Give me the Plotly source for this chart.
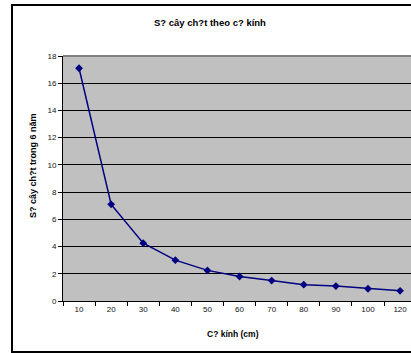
import plotly.graph_objects as go

# Tree diameter classes (cm) and number of dead trees over 6 years
diameters = ["10", "20", "30", "40", "50", "60", "70", "80", "90", "100", "120"]
dead_trees = [17.1, 7.1, 4.25, 3.0, 2.25, 1.8, 1.5, 1.2, 1.1, 0.9, 0.75]

chart_title = "S? cây ch?t theo c? kính"
x_title = "C? kính (cm)"
y_title = "S? cây ch?t trong 6 năm"

W, H = 411, 353
ML, MR, MT, MB = 63, 0, 56, 52
PW = W - ML - MR
PH = H - MT - MB


def px(x):
    return (x - ML) / PW


def py(y):
    return (H - MB - y) / PH


FONT = "Liberation Sans, Arial, sans-serif"
NAVY = "#000080"

fig = go.Figure()
fig.add_trace(go.Scatter(
    x=diameters,
    y=dead_trees,
    mode="lines+markers",
    line=dict(color=NAVY, width=1.5),
    marker=dict(symbol="diamond", size=6, color=NAVY),
    showlegend=False,
    hoverinfo="x+y",
))

frame = dict(color="black", width=2)

fig.update_layout(
    width=W,
    height=H,
    margin=dict(l=ML, r=MR, t=MT, b=MB, pad=0),
    paper_bgcolor="white",
    plot_bgcolor="#C0C0C0",
    font=dict(family=FONT, size=8, color="#111111"),
    xaxis=dict(
        type="category",
        categoryorder="array",
        categoryarray=diameters,
        range=[-0.5, 10.34],
        showgrid=False,
        zeroline=False,
        showline=True,
        linecolor="black",
        linewidth=1,
        ticks="outside",
        tickson="boundaries",
        ticklen=4,
        tickcolor="black",
        tickfont=dict(family=FONT, size=8, color="#111111"),
        fixedrange=True,
    ),
    yaxis=dict(
        range=[0, 18],
        dtick=2,
        showgrid=True,
        gridcolor="black",
        gridwidth=1,
        zeroline=False,
        showline=True,
        linecolor="black",
        linewidth=1,
        ticks="outside",
        ticklen=4,
        tickcolor="black",
        tickfont=dict(family=FONT, size=8, color="#111111"),
        fixedrange=True,
    ),
    shapes=[
        # gray top edge of the plot area
        dict(type="line", xref="paper", yref="paper", x0=0, x1=1, y0=1, y1=1,
             line=dict(color="#808080", width=2)),
        # chart frame: left, top and bottom edges (right edge lies past the page)
        dict(type="line", xref="paper", yref="paper",
             x0=px(12), x1=px(12), y0=py(352), y1=py(5), line=frame),
        dict(type="line", xref="paper", yref="paper",
             x0=px(11), x1=px(W), y0=py(5), y1=py(5), line=frame),
        dict(type="line", xref="paper", yref="paper",
             x0=px(11), x1=px(W), y0=py(352), y1=py(352), line=frame),
    ],
    annotations=[
        dict(text="<b>%s</b>" % chart_title, xref="paper", yref="paper",
             x=px(210), y=py(22.5), xanchor="center", yanchor="middle",
             showarrow=False, font=dict(family=FONT, size=9.5, color="black")),
        dict(text="<b>%s</b>" % x_title, xref="paper", yref="paper",
             x=px(233), y=py(333.5), xanchor="center", yanchor="middle",
             showarrow=False, font=dict(family=FONT, size=8.5, color="black")),
        dict(text="<b>%s</b>" % y_title, xref="paper", yref="paper",
             x=px(33), y=py(166), xanchor="center", yanchor="middle",
             textangle=-90, showarrow=False,
             font=dict(family=FONT, size=9, color="black")),
    ],
)

fig.write_html("out.html", config={"displayModeBar": False})
